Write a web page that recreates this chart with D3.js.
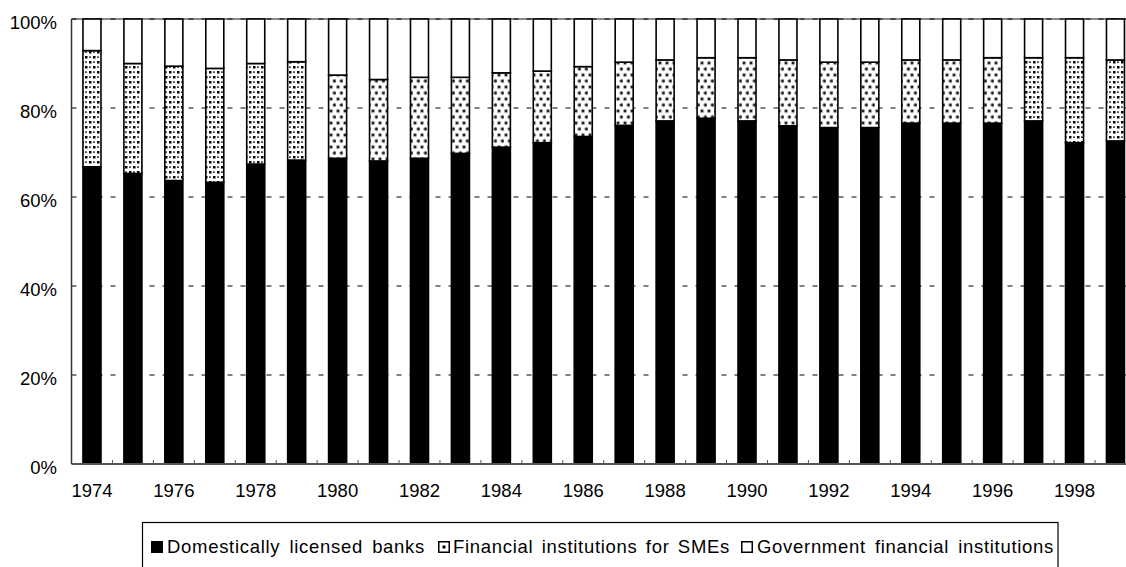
<!DOCTYPE html>
<html>
<head>
<meta charset="utf-8">
<script src="https://cdn.jsdelivr.net/npm/d3@7"></script>
<style>
  html, body { margin: 0; padding: 0; background: #fff; }
  svg { display: block; font-family: "Liberation Sans", Arial, sans-serif; }
</style>
</head>
<body>
<svg id="chart" width="1126" height="567"></svg>
<script>
// Shares of lending by type of institution, 1974-1999 (percent)
const years = ["1974","1975","1976","1977","1978","1979","1980","1981","1982","1983",
               "1984","1985","1986","1987","1988","1989","1990","1991","1992","1993",
               "1994","1995","1996","1997","1998","1999"];
const domesticBanks = [66.8, 65.3, 63.7, 63.3, 67.4, 68.3, 68.7, 68.1, 68.7, 69.8,
                       71.2, 72.2, 73.6, 76.1, 77.1, 77.7, 77.1, 76.0, 75.6, 75.6,
                       76.6, 76.6, 76.6, 77.1, 72.2, 72.6];
const smeInstitutions = [26.1, 24.7, 25.7, 25.6, 22.6, 22.1, 18.7, 18.3, 18.2, 17.1,
                         16.7, 16.1, 15.7, 14.2, 13.7, 13.6, 14.2, 14.8, 14.7, 14.7,
                         14.2, 14.2, 14.7, 14.2, 19.1, 18.2];
const govInstitutions = [7.1, 10.0, 10.6, 11.1, 10.0, 9.6, 12.6, 13.6, 13.1, 13.1,
                         12.1, 11.7, 10.7, 9.7, 9.2, 8.7, 8.7, 9.2, 9.7, 9.7,
                         9.2, 9.2, 8.7, 8.7, 8.7, 9.2];
const seriesNames = ["Domestically licensed banks", "Financial institutions for SMEs",
                     "Government financial institutions"];
const yTicks = [0, 0.2, 0.4, 0.6, 0.8, 1.0];
const xTickLabels = ["1974","1976","1978","1980","1982","1984","1986","1988","1990",
                     "1992","1994","1996","1998"];

const keys = ["dom", "sme", "gov"];
const rows = years.map((y, i) => ({
  year: y, dom: domesticBanks[i], sme: smeInstitutions[i], gov: govInstitutions[i]
}));
const stacked = d3.stack().keys(keys).offset(d3.stackOffsetExpand)(rows);

const svg = d3.select("#chart");
const plotLeft = 71.5, step = 40.94, plotTop = 19, plotBottom = 464;

const x = d3.scaleBand()
  .domain(years)
  .range([plotLeft, plotLeft + step * years.length])
  .paddingInner(0.56)
  .paddingOuter(0.28);
const y = d3.scaleLinear().domain([0, 1]).range([plotBottom, plotTop]);

// Fill patterns for the SME segment
const defs = svg.append("defs");
const pSq = defs.append("pattern").attr("id", "dotsSquare")
  .attr("patternUnits", "userSpaceOnUse").attr("width", 8).attr("height", 10);
pSq.append("rect").attr("width", 8).attr("height", 10).attr("fill", "#fff");
pSq.append("rect").attr("x", 1).attr("y", 1).attr("width", 2.5).attr("height", 2.5).attr("fill", "#000");
pSq.append("rect").attr("x", 5).attr("y", 6).attr("width", 2.5).attr("height", 2.5).attr("fill", "#000");
pSq.append("rect").attr("x", 5).attr("y", 1.5).attr("width", 2).attr("height", 1.2).attr("fill", "#000");
pSq.append("rect").attr("x", 1).attr("y", 6.5).attr("width", 2).attr("height", 1.2).attr("fill", "#000");

const pCi = defs.append("pattern").attr("id", "dotsRound")
  .attr("patternUnits", "userSpaceOnUse").attr("width", 7).attr("height", 12);
pCi.append("rect").attr("width", 7).attr("height", 12).attr("fill", "#fff");
pCi.append("circle").attr("cx", 2).attr("cy", 3).attr("r", 1.8)
  .attr("fill", "#222").attr("stroke", "#aaa").attr("stroke-width", 1);
pCi.append("circle").attr("cx", 5.5).attr("cy", 9).attr("r", 1.8)
  .attr("fill", "#222").attr("stroke", "#aaa").attr("stroke-width", 1);

function smeFill(year) {
  const yr = +year;
  return (yr < 1980 || yr > 1996) ? "url(#dotsSquare)" : "url(#dotsRound)";
}

// Gridlines
const grid = svg.append("g");
grid.append("line")
  .attr("x1", plotLeft).attr("x2", 1126)
  .attr("y1", y(1)).attr("y2", y(1))
  .attr("stroke", "#8a8a8a").attr("stroke-width", 2);
grid.selectAll("line.g").data(yTicks.filter(t => t > 0))
  .join("line").attr("class", "g")
  .attr("x1", plotLeft).attr("x2", 1126)
  .attr("y1", d => y(d)).attr("y2", d => y(d))
  .attr("stroke", "#000").attr("stroke-width", 1)
  .attr("stroke-dasharray", "5,8");

// Stacked bars
const fills = { dom: () => "#000", sme: smeFill, gov: () => "#fff" };
svg.append("g").selectAll("g")
  .data(stacked).join("g")
  .each(function(s) {
    d3.select(this).selectAll("rect")
      .data(s).join("rect")
      .attr("x", d => x(d.data.year))
      .attr("width", x.bandwidth())
      .attr("y", d => y(d[1]))
      .attr("height", d => y(d[0]) - y(d[1]))
      .attr("fill", d => fills[s.key](d.data.year))
      .attr("stroke", "#000")
      .attr("stroke-width", 1.6);
  });

// Y axis
const yAxis = svg.append("g");
yAxis.append("line")
  .attr("x1", plotLeft).attr("x2", plotLeft).attr("y1", plotTop).attr("y2", plotBottom)
  .attr("stroke", "#333").attr("stroke-width", 1.5);
yAxis.selectAll("text").data(yTicks).join("text")
  .attr("x", 57).attr("y", d => y(d)).attr("dy", "0.53em")
  .attr("text-anchor", "end").attr("font-size", 18.5).attr("fill", "#000")
  .text(d => d3.format(".0%")(d));

// X axis with inward ticks at category boundaries
const xAxis = svg.append("g");
xAxis.append("line")
  .attr("x1", plotLeft).attr("x2", 1126).attr("y1", plotBottom).attr("y2", plotBottom)
  .attr("stroke", "#555").attr("stroke-width", 2);
xAxis.selectAll("line.t").data(years.slice(1)).join("line").attr("class", "t")
  .attr("x1", d => x(d) - x.step() * x.paddingInner() / 2)
  .attr("x2", d => x(d) - x.step() * x.paddingInner() / 2)
  .attr("y1", plotBottom).attr("y2", plotBottom - 4)
  .attr("stroke", "#555").attr("stroke-width", 1);
xAxis.selectAll("text").data(xTickLabels).join("text")
  .attr("x", d => x(d) + x.bandwidth() / 2).attr("y", 497)
  .attr("text-anchor", "middle").attr("font-size", 18.5).attr("fill", "#000")
  .text(d => d);

// Legend
const lg = svg.append("g");
lg.append("rect").attr("x", 142.5).attr("y", 522.5).attr("width", 915.5).attr("height", 60)
  .attr("fill", "#fff").attr("stroke", "#000").attr("stroke-width", 1.2);
const legendItems = [
  { name: seriesNames[0], sx: 151, tx: 167, tw: 258 },
  { name: seriesNames[1], sx: 438, tx: 453, tw: 277 },
  { name: seriesNames[2], sx: 741, tx: 757, tw: 297 }
];
legendItems.forEach((it, i) => {
  if (i === 0) {
    lg.append("rect").attr("x", it.sx).attr("y", 541).attr("width", 12).attr("height", 12).attr("fill", "#000");
  } else {
    lg.append("rect").attr("x", it.sx + 0.75).attr("y", 541.75).attr("width", 10.5).attr("height", 10.5)
      .attr("fill", "#fff").attr("stroke", "#000").attr("stroke-width", 1.5);
    if (i === 1) {
      lg.append("rect").attr("x", it.sx + 4.5).attr("y", 545.5).attr("width", 3).attr("height", 3).attr("fill", "#000");
    }
  }
  const t = lg.append("text").attr("x", it.tx).attr("y", 553)
    .attr("font-size", 18.5).attr("fill", "#000")
    .attr("letter-spacing", 0.7)
    .text(it.name);
  // widen the gaps between words so each label fills its slot
  const natural = t.node().getComputedTextLength();
  const gaps = it.name.split(" ").length - 1;
  if (gaps > 0 && natural < it.tw) {
    t.attr("word-spacing", (it.tw - natural) / gaps);
  }
});
</script>
</body>
</html>
